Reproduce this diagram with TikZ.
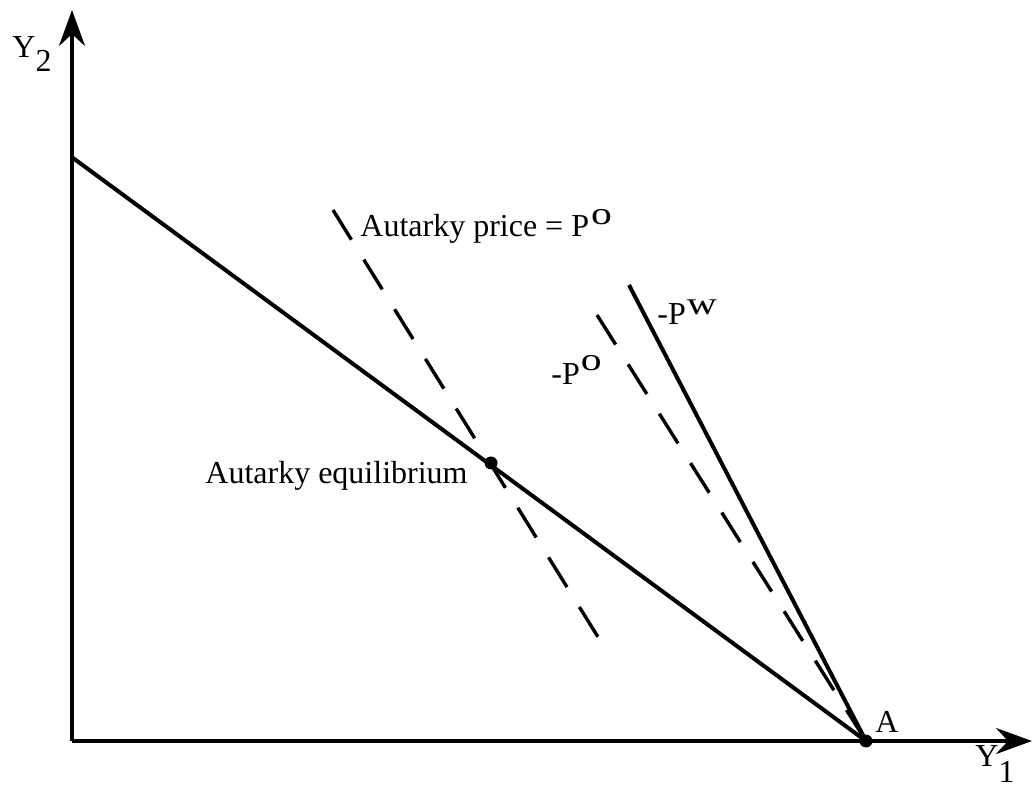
\documentclass[tikz,border=0pt]{standalone}
\usepackage{fontspec}
\setmainfont{Liberation Serif}
\usetikzlibrary{arrows.meta}
\begin{document}
\begin{tikzpicture}[x=0.5pt,y=-0.5pt,
  axis/.style={line width=1.7pt,-{Stealth[length=18pt,width=13pt,inset=6pt]}},
  curve/.style={line width=2pt},
  dashline/.style={line width=1.7pt, dash pattern=on 17.5pt off 11.7pt},
  dot/.style={circle,fill=black,inner sep=0pt,minimum size=6.5pt},
  lbl/.style={font=\fontsize{16}{19}\selectfont, inner sep=0pt, anchor=base west},
]
\useasboundingbox (0,0) rectangle (1033,790);
% coordinates
\coordinate (O) at (72,741);
\coordinate (ytop) at (72,10);
\coordinate (xend) at (1032,741);
\coordinate (ppfTop) at (73,158);
\coordinate (autTop) at (333,210);
\coordinate (autBot) at (598,637);
\coordinate (poTop) at (597,315);
\coordinate (pwTop) at (629,285);
% dots
\node[dot] (eq) at (491,463) {};
\node[dot] (A) at (866,741) {};
% axes
\draw[axis] (O) -- (ytop);
\draw[axis] (O) -- (xend);
% lines
\draw[curve] (ppfTop) -- (A.center);
\draw[dashline] (autTop) -- (autBot);
\draw[dashline] (poTop) -- (A.center);
\draw[curve] (pwTop) -- (A.center);
% labels
\node[lbl] (y2) at (12,58) {Y\raisebox{-7pt}{2}};
\node[lbl] (y1) at (975,766) {Y\raisebox{-8pt}{1}};
\node[lbl] (alab) at (875,732) {A};
\node[lbl] (autp) at (360,237) {Autarky price = P\kern1pt\raisebox{6pt}{\scalebox{1.3}[1]{o}}};
\node[lbl] (pol) at (551,385) {-P\kern0.5pt\raisebox{7pt}{\scalebox{1.3}[1]{o}}};
\node[lbl] (pwl) at (657,325) {-P\kern0.5pt\raisebox{5pt}{\scalebox{1.3}[1]{w}}};
\node[lbl] (eql) at (205,484) {Autarky equilibrium};
\end{tikzpicture}
\end{document}
